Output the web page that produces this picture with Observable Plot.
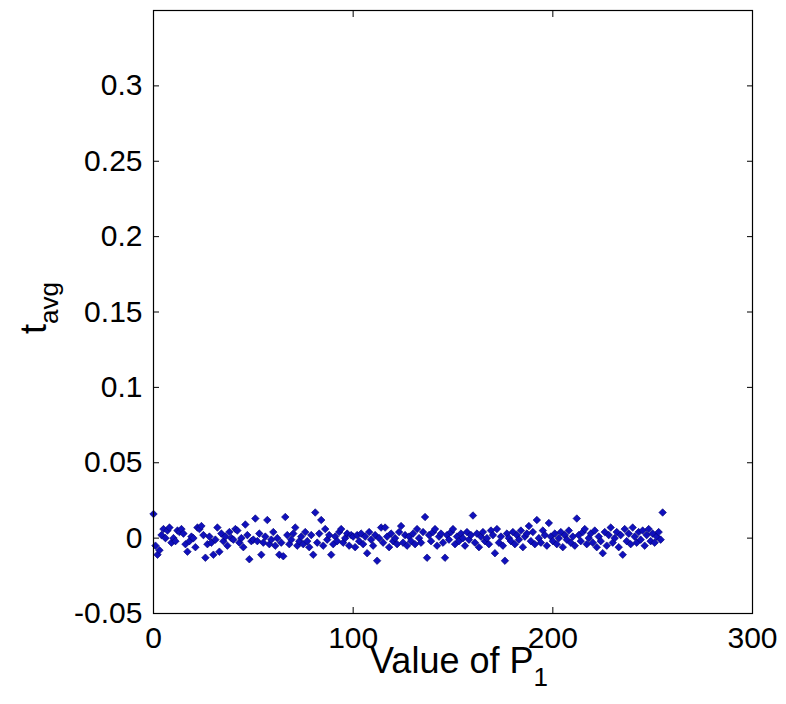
<!DOCTYPE html>
<html>
<head>
<meta charset="utf-8">
<script src="https://cdn.jsdelivr.net/npm/d3@7"></script>
<script src="https://cdn.jsdelivr.net/npm/@observablehq/plot@0.6"></script>
<style>
  html, body { margin: 0; padding: 0; background: #fff; }
  #chart svg { display: block; }
</style>
</head>
<body>
<div id="chart"></div>
<script>
// t_avg for each value of P1 (0..255)
const tAvg = [
  0.016, -0.005, -0.011, -0.008, 0.002, 0.006, 0.000, 0.005, 0.007, -0.003,
  0.000, -0.002, 0.005, 0.004, 0.006, 0.003, -0.004, -0.009, -0.002, 0.001,
  0.000, -0.006, 0.007, 0.006, 0.008, 0.002, -0.013, -0.004, 0.001, -0.003,
  -0.011, -0.001, 0.007, -0.009, 0.003, -0.002, 0.001, -0.005, 0.004, 0.000,
  -0.001, 0.006, 0.005, -0.003, 0.000, -0.006, 0.009, 0.002, -0.014, -0.002,
  -0.001, 0.013, -0.002, 0.003, -0.011, -0.003, 0.001, 0.012, -0.004, -0.001,
  0.004, -0.005, 0.000, -0.011, -0.003, -0.012, 0.014, 0.002, -0.004, -0.001,
  0.003, 0.007, -0.005, -0.002, 0.001, -0.004, 0.004, -0.002, -0.006, 0.002,
  -0.011, 0.017, -0.003, 0.003, 0.012, -0.005, 0.006, -0.001, 0.002, -0.011,
  -0.004, 0.001, -0.002, 0.004, 0.006, -0.003, 0.000, 0.003, -0.005, 0.002,
  0.001, -0.006, 0.002, -0.002, 0.003, -0.004, 0.001, -0.010, 0.004, -0.001,
  -0.005, 0.002, -0.015, 0.000, 0.007, -0.003, 0.007, 0.001, -0.006, 0.003,
  -0.002, 0.000, -0.004, 0.004, 0.008, -0.003, 0.002, -0.005, 0.001, -0.002,
  0.003, -0.004, 0.006, 0.000, -0.003, 0.004, 0.014, -0.013, 0.002, -0.002,
  0.004, 0.006, -0.005, 0.001, 0.003, -0.003, -0.013, 0.002, -0.001, 0.004,
  0.006, -0.004, 0.001, -0.002, 0.003, 0.000, -0.005, 0.004, -0.001, 0.002,
  0.015, -0.003, 0.003, -0.006, 0.001, 0.004, -0.002, 0.000, -0.004, 0.005,
  0.002, -0.010, 0.006, -0.003, 0.001, -0.005, -0.015, 0.003, 0.000, -0.002,
  0.004, -0.004, 0.002, -0.001, 0.005, -0.006, 0.001, 0.003, 0.008, -0.002,
  0.004, -0.004, 0.012, 0.000, -0.003, 0.005, 0.002, -0.005, 0.010, 0.001,
  -0.002, 0.003, -0.004, 0.000, 0.004, -0.006, 0.002, -0.001, 0.005, -0.003,
  0.001, -0.005, 0.013, 0.002, -0.002, 0.004, 0.006, -0.004, 0.000, 0.003,
  -0.003, 0.005, -0.006, 0.001, -0.002, -0.010, 0.004, -0.005, 0.002, 0.007,
  -0.003, 0.000, 0.004, -0.006, 0.002, -0.011, 0.006, -0.002, 0.003, -0.004,
  0.007, 0.001, -0.003, 0.004, -0.001, 0.005, -0.005, 0.002, 0.006, -0.002,
  0.003, -0.003, 0.001, 0.004, -0.001, 0.017
];
const pValues = tAvg.map((_, i) => i);
const xTicks = [0, 100, 200, 300];
const yTicks = [-0.05, 0, 0.05, 0.1, 0.15, 0.2, 0.25, 0.3];
const xLabel = "Value of P";
const xLabelSub = "1";
const yLabel = "t";
const yLabelSub = "avg";

const data = tAvg.map((v, i) => ({p: pValues[i], t: v}));
const fmt = d => String(+d.toFixed(2));
const FONT = "'Liberation Sans', Arial, Helvetica, sans-serif";

const W = 786, H = 704;
const mL = 153, mR = 34, mT = 10, mB = 91;

const chart = Plot.plot({
  width: W,
  height: H,
  marginLeft: mL,
  marginRight: mR,
  marginTop: mT,
  marginBottom: mB,
  style: {fontFamily: FONT, fontSize: "30px", color: "#000", background: "#fff"},
  x: {domain: [0, 300]},
  y: {domain: [-0.05, 0.35]},
  marks: [
    Plot.dot(data, {x: "p", y: "t", symbol: "diamond2", r: 3.4, fill: "#1010bc", stroke: "#000070", strokeWidth: 0.6}),
    Plot.frame({stroke: "#000", strokeWidth: 1.2}),
    Plot.axisX({anchor: "bottom", ticks: xTicks, tickSize: -6, tickPadding: 19, tickFormat: fmt, label: null, fontSize: 30}),
    Plot.axisX({anchor: "top", ticks: xTicks, tickSize: -6, tickFormat: () => "", label: null}),
    Plot.axisY({anchor: "left", ticks: yTicks, tickSize: -6, tickPadding: 17, tickFormat: fmt, label: null, fontSize: 30}),
    Plot.axisY({anchor: "right", ticks: yTicks, tickSize: -6, tickFormat: () => "", label: null})
  ]
});

document.getElementById("chart").appendChild(chart);

const svg = d3.select(chart);
// x label with subscript
const xl = svg.append("text")
  .attr("x", 459)
  .attr("y", 673)
  .attr("text-anchor", "middle")
  .attr("font-family", FONT)
  .attr("font-size", 36)
  .attr("fill", "#000");
xl.append("tspan").text(xLabel);
xl.append("tspan").attr("dy", 13).attr("font-size", 26).text(xLabelSub);

// y label with subscript
const yl = svg.append("text")
  .attr("transform", `translate(46, 308) rotate(-90)`)
  .attr("text-anchor", "middle")
  .attr("font-family", FONT)
  .attr("font-size", 36)
  .attr("fill", "#000");
yl.append("tspan").text(yLabel);
yl.append("tspan").attr("dy", 12).attr("font-size", 26).text(yLabelSub);
</script>
</body>
</html>
